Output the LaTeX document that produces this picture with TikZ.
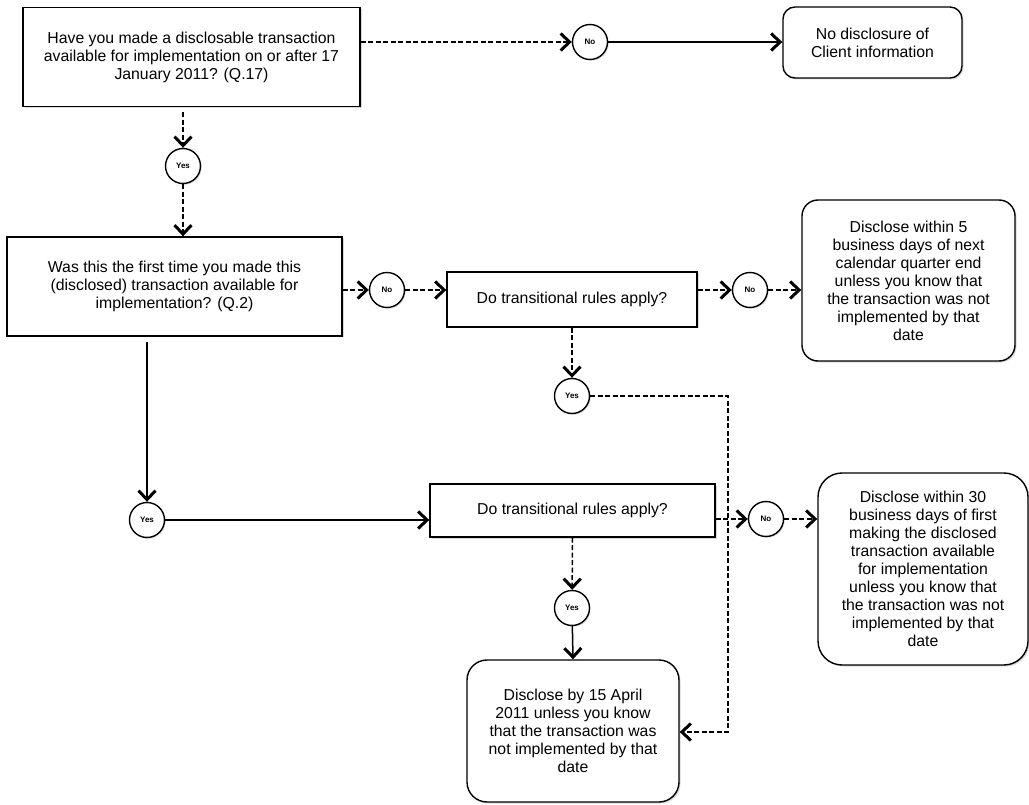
\documentclass[tikz,border=0pt]{standalone}
\usepackage{fontspec}
\setmainfont{Liberation Sans}
\usetikzlibrary{arrows.meta,shadows}
\tikzset{
  qbox/.style={draw,line width=1.4pt,align=center,inner sep=2pt,fill=white,
    font=\fontsize{15.8}{18}\selectfont,
    drop shadow={shadow xshift=1.5pt,shadow yshift=-1.5pt,opacity=0.3}},
  endbox/.style={qbox,rounded corners=16pt},
  yn/.style={draw,circle,line width=1.4pt,inner sep=0pt,minimum size=35pt,fill=white,
    font=\fontsize{8}{9}\selectfont\bfseries,
    drop shadow={shadow xshift=1.2pt,shadow yshift=-1.2pt,opacity=0.3}},
  link/.style={line width=1.5pt,-{Straight Barb[length=9pt,width=17pt,line width=3pt]}},
  dlink/.style={link,dash pattern=on 5pt off 2.5pt}
}
\begin{document}
\begin{tikzpicture}[x=1pt,y=-1pt]
\useasboundingbox (0,0) rectangle (1029,805);
\path
	(191.5,57) node[qbox,minimum width=337pt,minimum height=99pt] (q1) {Have you made a disclosable transaction\\available for implementation on or after 17\\January 2011? (Q.17)}
	(174.5,286.5) node[qbox,minimum width=335pt,minimum height=99pt] (q2) {Was this the first time you made this\\(disclosed) transaction available for\\implementation? (Q.2)}
	(572,299.5) node[qbox,minimum width=250pt,minimum height=55pt] (t1) {Do transitional rules apply?}
	(572.5,510.5) node[qbox,minimum width=285pt,minimum height=53pt] (t2) {Do transitional rules apply?}
	(872.5,42.5) node[endbox,rounded corners=12pt,minimum width=179pt,minimum height=71pt] (nodisc) {No disclosure of\\Client information}
	(908.5,280.5) node[endbox,minimum width=213pt,minimum height=161pt] (d5) {Disclose within 5\\business days of next\\calendar quarter end\\unless you know that\\the transaction was not\\implemented by that\\date}
	(923,569) node[endbox,rounded corners=24pt,minimum width=210pt,minimum height=192pt] (d30) {Disclose within 30\\business days of first\\making the disclosed\\transaction available\\for implementation\\unless you know that\\the transaction was not\\implemented by that\\date}
	(573,731) node[endbox,rounded corners=20pt,minimum width=212pt,minimum height=142pt] (d15) {Disclose by 15 April\\2011 unless you know\\that the transaction was\\not implemented by that\\date};
\path
	(183,166) node[yn] (yes1) {Yes}
	(590,42) node[yn] (no1) {No}
	(387,290) node[yn] (no2) {No}
	(750,290) node[yn] (no3) {No}
	(572,396) node[yn] (yes3) {Yes}
	(147,520) node[yn] (yes4) {Yes}
	(766,519) node[yn] (no5) {No}
	(572,608) node[yn] (yes5) {Yes};
\coordinate (turn) at (728,732);
\draw[dlink,shorten <=5pt] (q1.south -| yes1) -- (yes1);
\draw[dlink] (yes1) -- (yes1 |- q2.north);
\draw[dlink] (q1.east |- no1) -- (no1);
\draw[link] (no1) -- (no1 -| nodisc.west);
\draw[dlink] (q2.east |- no2) -- (no2);
\draw[dlink] (no2) -- (no2 -| t1.west);
\draw[dlink] (t1.east |- no3) -- (no3);
\draw[dlink] (no3) -- (no3 -| d5.west);
\draw[dlink] (t1.south) -- (yes3);
\draw[dlink] (yes3) -| (turn) -- (turn -| d15.east);
\draw[link,shorten <=5pt] (q2.south -| yes4) -- (yes4);
\draw[link] (yes4) -- (yes4 -| t2.west);
\draw[dlink] (t2.east |- no5) -- (no5);
\draw[dlink] (no5) -- (no5 -| d30.west);
\draw[dlink] (t2.south) -- (yes5);
\draw[link] (yes5) -- (d15.north);
\end{tikzpicture}
\end{document}
